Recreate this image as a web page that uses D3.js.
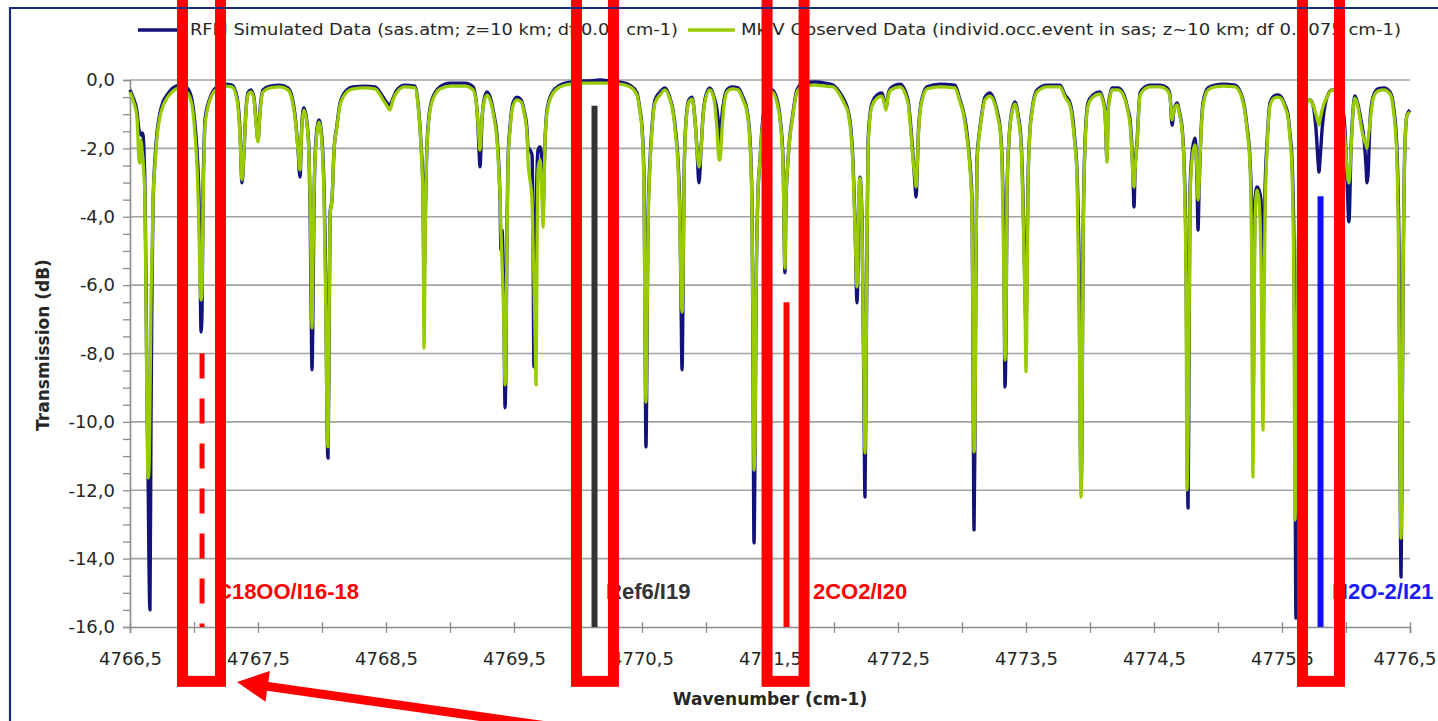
<!DOCTYPE html>
<html><head><meta charset="utf-8">
<script src="https://cdn.jsdelivr.net/npm/d3@7"></script>
<style>html,body{margin:0;padding:0;background:#fff;overflow:hidden}svg{display:block}</style>
</head><body>
<svg id="chart" width="1438" height="721"></svg>
<script>
// ---------------- DATA ----------------
const wavenumber = [
 4766.500,4766.523,4766.555,4766.570,4766.578,4766.586,4766.594,4766.602,4766.609,4766.617,4766.625,4766.633,4766.641,4766.648,4766.656,4766.664,4766.672,4766.680,4766.695,4766.711,4766.734,4766.758,4766.789,4766.836,4766.891,
 4766.945,4766.984,4767.008,4767.023,4767.039,4767.047,4767.055,4767.063,4767.070,4767.078,4767.086,4767.125,4767.180,4767.242,4767.297,
 4767.336,4767.359,4767.375,4767.391,4767.406,4767.422,4767.445,4767.469,4767.484,4767.500,4767.516,4767.539,4767.594,4767.672,4767.734,
 4767.766,4767.789,4767.813,4767.828,4767.844,4767.859,4767.883,4767.898,4767.906,4767.914,4767.922,4767.930,4767.938,4767.953,4767.977,4768.000,4768.016,4768.031,4768.039,4768.047,4768.055,4768.063,4768.078,4768.094,4768.117,4768.141,4768.195,4768.242,4768.336,4768.414,4768.477,4768.508,4768.531,4768.555,4768.586,4768.648,4768.727,
 4768.750,4768.773,4768.789,4768.797,4768.805,4768.813,4768.828,4768.859,4768.922,4769.000,4769.117,4769.180,
 4769.211,4769.227,4769.234,4769.250,4769.266,4769.289,4769.320,4769.344,4769.367,4769.383,4769.391,4769.398,4769.406,4769.422,4769.430,4769.438,4769.445,4769.453,4769.469,4769.492,4769.523,4769.555,4769.578,4769.602,4769.609,4769.625,4769.641,4769.648,4769.656,4769.664,4769.672,4769.680,4769.688,4769.703,4769.719,4769.727,4769.734,4769.742,4769.758,4769.797,4769.859,
 4769.938,4770.016,4770.094,4770.172,4770.250,4770.328,4770.406,4770.461,
 4770.484,4770.500,4770.516,4770.523,4770.531,4770.539,4770.547,4770.563,4770.578,4770.602,4770.641,4770.680,4770.719,4770.742,4770.766,4770.781,4770.797,4770.805,4770.813,4770.820,4770.828,4770.844,4770.867,4770.891,4770.914,4770.930,4770.945,4770.961,4770.977,4771.000,4771.031,4771.063,4771.086,4771.102,4771.109,4771.125,4771.141,4771.164,4771.203,
 4771.250,4771.289,4771.320,4771.344,4771.359,4771.367,4771.375,4771.383,4771.391,4771.406,4771.422,4771.438,4771.461,4771.484,4771.516,4771.555,4771.578,4771.602,4771.617,4771.625,4771.641,4771.656,4771.672,4771.711,4771.758,4771.852,4771.930,4771.992,
 4772.047,4772.086,4772.109,4772.133,4772.148,4772.164,4772.180,4772.195,4772.203,4772.219,4772.234,4772.242,4772.250,4772.258,4772.266,4772.281,4772.297,4772.336,4772.375,4772.398,4772.406,4772.422,4772.445,4772.516,4772.578,4772.602,4772.617,4772.633,4772.641,4772.648,4772.656,4772.672,4772.695,4772.727,4772.828,4772.945,
 4772.984,4773.008,4773.031,4773.047,4773.063,4773.078,4773.086,4773.094,4773.102,4773.109,4773.117,4773.133,4773.148,4773.180,4773.219,4773.258,4773.281,4773.297,4773.313,4773.328,4773.336,4773.344,4773.352,4773.367,4773.391,4773.414,4773.438,4773.461,4773.477,4773.492,4773.500,4773.508,4773.516,4773.531,4773.547,4773.586,4773.664,4773.766,
 4773.805,4773.844,4773.867,4773.883,4773.898,4773.914,4773.930,4773.938,4773.945,4773.961,4773.984,4774.023,4774.078,4774.102,4774.117,4774.133,4774.141,4774.156,4774.172,4774.219,4774.266,4774.297,4774.313,4774.328,4774.336,4774.344,4774.352,4774.367,4774.391,4774.430,4774.469,4774.547,4774.602,
 4774.625,4774.641,4774.656,4774.680,4774.703,4774.719,4774.734,4774.750,4774.758,4774.766,4774.773,4774.781,4774.797,4774.820,4774.836,4774.844,4774.852,4774.859,4774.883,4774.922,4774.977,4775.039,4775.133,4775.195,
 4775.227,4775.250,4775.266,4775.273,4775.281,4775.289,4775.305,4775.320,4775.336,4775.352,4775.359,4775.367,4775.383,4775.406,4775.438,4775.469,4775.500,4775.523,4775.547,4775.563,4775.578,4775.594,4775.602,4775.609,4775.617,4775.633,4775.656,4775.688,
 4775.719,4775.742,4775.766,4775.781,4775.789,4775.797,4775.813,4775.852,4775.891,4775.938,4775.969,4775.992,4776.008,4776.023,4776.039,4776.055,4776.070,4776.094,4776.117,4776.141,4776.156,4776.164,4776.172,4776.188,4776.211,4776.250,4776.297,4776.344,4776.375,4776.398,4776.414,4776.422,4776.430,4776.438,4776.445,4776.461,4776.477,4776.500
];
const rfmSimulated = [
 -0.29,-0.50,-0.94,-1.46,-1.55,-1.61,-1.55,-1.61,-2.05,-3.22,-5.85,-9.36,-11.41,-14.04,-15.50,-9.94,-5.85,-3.66,-2.34,-1.55,-0.97,-0.64,-0.44,-0.23,-0.15,
 -0.23,-0.58,-1.32,-2.05,-3.51,-5.26,-7.37,-6.73,-3.51,-2.05,-1.17,-0.53,-0.20,-0.12,-0.15,
 -0.50,-1.46,-3.01,-2.05,-0.88,-0.38,-0.29,-0.53,-1.17,-1.75,-0.88,-0.29,-0.18,-0.15,-0.23,
 -0.50,-1.02,-2.05,-2.84,-1.17,-0.82,-1.26,-2.05,-3.51,-6.14,-8.48,-6.44,-3.51,-1.75,-1.17,-1.75,-3.22,-6.44,-9.94,-11.06,-7.90,-3.89,-3.51,-2.05,-1.32,-0.67,-0.29,-0.20,-0.18,-0.20,-0.50,-0.67,-0.73,-0.53,-0.29,-0.15,-0.18,
 -0.67,-1.84,-3.22,-5.76,-4.39,-2.84,-1.37,-0.58,-0.20,-0.09,-0.09,-0.20,
 -0.88,-2.05,-2.54,-1.17,-0.58,-0.35,-0.58,-1.02,-1.61,-2.63,-3.51,-4.97,-4.39,-7.02,-9.59,-7.90,-4.39,-2.34,-1.37,-0.67,-0.50,-0.58,-0.88,-1.46,-1.96,-2.05,-2.19,-4.09,-8.39,-6.44,-4.09,-2.63,-2.05,-1.96,-2.34,-3.95,-2.92,-1.84,-0.88,-0.38,-0.15,
 -0.06,-0.03,-0.03,0.00,-0.03,-0.06,-0.15,-0.38,
 -0.88,-1.37,-2.92,-6.44,-10.73,-7.90,-4.09,-2.34,-1.37,-0.58,-0.35,-0.23,-0.53,-0.88,-1.61,-2.34,-4.09,-6.44,-8.48,-6.44,-2.92,-1.17,-0.58,-0.50,-1.17,-2.05,-3.01,-2.05,-1.02,-0.44,-0.23,-0.50,-0.88,-1.46,-1.84,-1.02,-0.58,-0.29,-0.20,
 -0.23,-0.50,-0.88,-1.75,-3.51,-7.90,-13.54,-10.82,-6.44,-3.30,-2.34,-1.37,-0.73,-0.44,-0.29,-0.58,-1.08,-2.34,-5.64,-3.51,-2.34,-1.61,-1.17,-0.29,-0.09,-0.06,-0.09,-0.15,
 -0.38,-0.64,-0.88,-1.46,-2.34,-4.09,-6.52,-3.51,-2.84,-4.09,-9.36,-12.20,-8.78,-4.97,-1.84,-1.02,-0.67,-0.44,-0.38,-0.73,-0.82,-0.44,-0.23,-0.12,-0.58,-1.46,-2.19,-3.07,-3.42,-2.92,-1.84,-0.88,-0.44,-0.20,-0.12,-0.15,
 -0.58,-0.88,-1.32,-1.84,-2.49,-3.51,-7.90,-13.16,-9.94,-5.26,-2.34,-1.61,-1.17,-0.50,-0.38,-0.67,-1.02,-1.37,-2.34,-5.26,-8.98,-7.31,-3.22,-1.75,-0.88,-0.64,-1.02,-1.75,-3.51,-6.14,-7.22,-5.26,-2.92,-1.46,-0.88,-0.29,-0.15,-0.15,
 -0.44,-0.67,-1.17,-1.84,-2.63,-5.26,-11.90,-9.94,-4.97,-1.84,-0.67,-0.44,-0.35,-0.58,-0.88,-2.34,-0.88,-0.44,-0.23,-0.23,-0.44,-0.88,-1.17,-2.05,-2.84,-3.71,-2.63,-1.84,-0.38,-0.20,-0.15,-0.15,-0.23,
 -0.44,-1.32,-0.88,-0.67,-1.02,-1.37,-2.34,-4.97,-9.36,-12.52,-8.77,-3.30,-2.14,-1.70,-2.92,-4.39,-3.22,-2.34,-0.67,-0.23,-0.15,-0.12,-0.15,-0.58,
 -1.37,-2.34,-4.39,-10.32,-6.44,-3.51,-3.13,-3.22,-3.51,-5.56,-4.97,-3.30,-1.84,-0.67,-0.47,-0.44,-0.53,-0.73,-1.02,-1.61,-2.34,-4.97,-10.82,-15.74,-9.36,-3.51,-1.46,-0.67,
 -0.58,-0.73,-1.46,-2.34,-2.69,-2.34,-1.46,-0.50,-0.29,-0.35,-0.73,-1.46,-2.92,-4.15,-2.05,-0.88,-0.47,-0.73,-1.17,-1.75,-2.49,-3.01,-2.78,-1.17,-0.50,-0.26,-0.23,-0.35,-0.88,-2.05,-4.97,-10.82,-14.54,-10.82,-6.44,-1.84,-1.02,-0.88
];
const mkivObserved = [
 -0.35,-0.58,-1.11,-2.34,-2.43,-1.75,-2.05,-2.34,-2.78,-3.51,-6.44,-9.94,-11.64,-11.41,-9.36,-6.44,-5.26,-3.51,-2.49,-1.67,-1.08,-0.76,-0.53,-0.32,-0.23,
 -0.35,-0.73,-1.61,-2.49,-4.39,-5.85,-6.44,-6.14,-3.80,-2.34,-1.32,-0.58,-0.26,-0.18,-0.20,
 -0.58,-1.61,-2.92,-2.05,-0.94,-0.44,-0.35,-0.58,-1.23,-1.81,-0.94,-0.35,-0.23,-0.20,-0.29,
 -0.58,-1.11,-2.05,-2.63,-1.23,-0.88,-1.32,-2.19,-3.22,-5.26,-7.25,-5.26,-3.22,-1.90,-1.23,-1.90,-3.51,-7.02,-9.94,-10.73,-7.31,-3.95,-3.51,-2.05,-1.37,-0.73,-0.35,-0.26,-0.23,-0.26,-0.58,-0.76,-0.88,-0.58,-0.35,-0.20,-0.23,
 -0.73,-1.90,-3.51,-7.84,-5.26,-2.92,-1.46,-0.64,-0.26,-0.18,-0.18,-0.29,
 -0.88,-1.75,-2.05,-1.11,-0.64,-0.44,-0.67,-1.11,-1.75,-2.78,-3.36,-4.39,-5.26,-7.31,-8.92,-7.60,-4.68,-2.49,-1.46,-0.76,-0.58,-0.64,-0.94,-1.61,-2.34,-2.92,-3.51,-4.68,-5.85,-7.31,-8.92,-4.97,-2.63,-2.34,-3.51,-4.30,-3.22,-1.90,-0.94,-0.44,-0.20,
 -0.12,-0.09,-0.09,-0.09,-0.09,-0.12,-0.20,-0.44,
 -0.94,-1.46,-3.22,-7.31,-9.42,-7.31,-4.39,-2.49,-1.46,-0.67,-0.44,-0.29,-0.58,-0.94,-1.75,-2.49,-4.39,-6.14,-6.79,-5.85,-3.07,-1.23,-0.64,-0.56,-1.17,-2.05,-2.54,-2.05,-1.08,-0.50,-0.29,-0.58,-1.46,-2.34,-2.34,-1.46,-0.73,-0.35,-0.26,
 -0.29,-0.58,-0.94,-1.90,-3.80,-7.31,-11.41,-10.53,-6.44,-3.36,-2.34,-1.46,-0.82,-0.50,-0.35,-0.67,-1.17,-2.49,-5.50,-3.51,-2.34,-1.67,-1.23,-0.35,-0.18,-0.15,-0.18,-0.20,
 -0.44,-0.73,-0.94,-1.61,-2.49,-4.39,-6.05,-3.22,-2.87,-4.39,-8.78,-10.91,-8.48,-4.97,-2.05,-1.11,-0.76,-0.53,-0.47,-0.76,-0.88,-0.50,-0.29,-0.20,-0.67,-1.61,-2.34,-2.84,-3.13,-2.78,-1.90,-0.94,-0.50,-0.26,-0.20,-0.23,
 -0.64,-0.94,-1.46,-1.96,-2.63,-3.80,-7.31,-10.88,-9.94,-5.26,-2.49,-1.67,-1.23,-0.58,-0.47,-0.73,-1.11,-1.46,-2.49,-5.85,-8.19,-7.02,-3.22,-1.75,-0.94,-0.70,-1.11,-1.90,-3.80,-6.44,-8.54,-6.44,-3.07,-1.52,-0.94,-0.35,-0.20,-0.20,
 -0.50,-0.76,-1.32,-1.96,-2.78,-6.44,-12.20,-10.24,-5.26,-1.96,-0.76,-0.50,-0.41,-0.64,-0.94,-2.40,-1.02,-0.50,-0.29,-0.29,-0.50,-0.94,-1.32,-2.19,-2.84,-3.13,-2.63,-1.90,-0.44,-0.26,-0.20,-0.20,-0.29,
 -0.50,-1.17,-0.88,-0.73,-1.08,-1.46,-2.49,-5.85,-11.99,-10.53,-7.90,-3.51,-2.34,-1.90,-2.63,-3.51,-3.07,-2.34,-0.76,-0.29,-0.20,-0.18,-0.20,-0.64,
 -1.46,-2.49,-6.44,-11.61,-7.90,-4.09,-3.22,-3.51,-5.26,-10.24,-7.31,-4.09,-2.05,-0.76,-0.53,-0.50,-0.58,-0.79,-1.11,-1.75,-2.63,-6.44,-12.87,-10.82,-7.90,-3.51,-1.61,-0.73,
 -0.58,-0.73,-1.02,-1.23,-1.32,-1.17,-0.88,-0.50,-0.29,-0.41,-0.88,-1.75,-2.63,-3.01,-2.05,-0.94,-0.53,-0.79,-1.32,-1.75,-1.90,-1.99,-1.75,-1.23,-0.56,-0.32,-0.29,-0.41,-1.02,-2.34,-6.44,-10.82,-13.40,-10.53,-6.44,-1.90,-1.02,-0.94
];
const seriesNames = ["RFM Simulated Data (sas.atm; z=10 km; df 0.01 cm-1)",
                     "MkIV Observed Data (individ.occ.event in sas; z~10 km; df 0.0075 cm-1)"];
const xDomain = [4766.5, 4776.5];
const yDomain = [-16, 0];
const xLabelTicks = [4766.5,4767.5,4768.5,4769.5,4770.5,4771.5,4772.5,4773.5,4774.5,4775.5,4776.5];
const xMinorTicks = d3.range(4766.5, 4776.51, 0.5);
const yLabelTicks = [0,-2,-4,-6,-8,-10,-12,-14,-16];
const yMinorTicks = d3.range(-16, 0.01, 0.5);
// marker lines: wavenumber, top value (dB)
const markerWn   = [4767.063, 4770.129, 4771.629, 4775.801];
const markerTop  = [-8.0, -0.75, -6.5, -3.4];
const markerCol  = ["#ff0000", "#333333", "#ff0000", "#1010ff"];
const markerDash = [true, false, false, false];
const labelText  = ["C18OO/I16-18", "Ref6/I19", "2CO2/I20", "H2O-2/I21"];
const labelWn    = [4767.172, 4770.219, 4771.836, 4775.891];
const labelCol   = ["#ff0000", "#333333", "#ff0000", "#1a1aff"];
// highlight boxes [left, right] wavenumbers
const boxLeft  = [4766.910, 4769.988, 4771.477, 4775.660];
const boxRight = [4767.207, 4770.277, 4771.766, 4775.949];

// ---------------- CHART ----------------
const svg = d3.select("#chart");
const W = 1438, H = 721;
svg.append("rect").attr("width", W).attr("height", H).attr("fill", "#fff");
const x = d3.scaleLinear().domain(xDomain).range([130, 1410]);
const y = d3.scaleLinear().domain(yDomain).range([627, 80]);
const fmt = v => d3.format(".1f")(v).replace(".", ",").replace("−", "-");

// gridlines
svg.append("g").selectAll("line").data(yLabelTicks.filter(d => d > -16)).join("line")
  .attr("x1", x(xDomain[0])).attr("x2", x(xDomain[1]))
  .attr("y1", d => y(d)).attr("y2", d => y(d))
  .attr("stroke", "#a3a3a3").attr("stroke-width", 1.6);

// y axis
const yAxis = d3.axisLeft(y).tickValues(yMinorTicks).tickSize(7).tickPadding(8)
  .tickFormat(d => (Math.abs(d % 2) < 1e-9) ? fmt(d) : "");
const gy = svg.append("g").attr("transform", `translate(${x(xDomain[0])},0)`).call(yAxis);
gy.select(".domain").attr("stroke", "#8c8c8c").attr("stroke-width", 1.6);
gy.selectAll(".tick line").attr("stroke", "#8c8c8c").attr("stroke-width", 1.3);
gy.selectAll(".tick text").attr("font-family", "DejaVu Sans").attr("font-size", 18).attr("fill", "#262626");

// x axis
const xAxis = d3.axisBottom(x).tickValues(xMinorTicks).tickSize(6).tickPadding(19)
  .tickFormat(d => xLabelTicks.some(v => Math.abs(v - d) < 1e-6) ? fmt(d) : "");
const gx = svg.append("g").attr("transform", `translate(0,${y(yDomain[0])})`).call(xAxis);
gx.select(".domain").attr("stroke", "#8c8c8c").attr("stroke-width", 1.6);
gx.selectAll(".tick line").attr("y1", -5).attr("stroke", "#8c8c8c").attr("stroke-width", 1.3);
gx.selectAll(".tick text").attr("font-family", "DejaVu Sans").attr("font-size", 18).attr("fill", "#262626");
// keep the last label inside the picture
gx.selectAll(".tick text").filter(d => Math.abs(d - xDomain[1]) < 1e-6)
  .attr("text-anchor", "end").attr("dx", 26);

// axis titles
svg.append("text").attr("x", 770).attr("y", 700).attr("text-anchor", "middle")
  .attr("dominant-baseline", "middle").attr("font-family", "DejaVu Sans").attr("font-weight", "bold")
  .attr("font-size", 17).attr("fill", "#262626").text("Wavenumber (cm-1)");
svg.append("text").attr("transform", "translate(44,345) rotate(-90)").attr("text-anchor", "middle")
  .attr("dominant-baseline", "middle").attr("font-family", "DejaVu Sans").attr("font-weight", "bold")
  .attr("font-size", 17).attr("fill", "#262626").text("Transmission (dB)");

// series
const line = d3.line().x(d => x(d[0])).y(d => y(d[1])).curve(d3.curveMonotoneX);
const rfmPts = wavenumber.map((w, i) => [w, rfmSimulated[i]]);
const mkivPts = wavenumber.map((w, i) => [w, mkivObserved[i]]);
svg.append("path").datum(rfmPts).attr("d", line).attr("fill", "none")
  .attr("stroke", "#12127a").attr("stroke-width", 3.4).attr("stroke-linejoin", "round");
svg.append("path").datum(mkivPts).attr("d", line).attr("fill", "none")
  .attr("stroke", "#99cc00").attr("stroke-width", 3.3).attr("stroke-linejoin", "round");

// marker lines
markerWn.forEach((w, i) => {
  svg.append("line").attr("x1", x(w)).attr("x2", x(w))
    .attr("y1", y(markerTop[i])).attr("y2", y(yDomain[0]))
    .attr("stroke", markerCol[i]).attr("stroke-width", markerDash[i] ? 5 : 6)
    .attr("stroke-dasharray", markerDash[i] ? "25,20" : null);
});

// legend
const legY = 30;
svg.append("line").attr("x1", 138).attr("x2", 181).attr("y1", legY).attr("y2", legY)
  .attr("stroke", "#12127a").attr("stroke-width", 3.5);
svg.append("text").attr("x", 190).attr("y", legY).attr("dominant-baseline", "middle")
  .attr("font-family", "DejaVu Sans").attr("font-size", 16).attr("fill", "#262626")
  .attr("textLength", 488).attr("lengthAdjust", "spacingAndGlyphs").text(seriesNames[0]);
svg.append("line").attr("x1", 688).attr("x2", 735).attr("y1", legY).attr("y2", legY)
  .attr("stroke", "#99cc00").attr("stroke-width", 3.5);
svg.append("text").attr("x", 741).attr("y", legY).attr("dominant-baseline", "middle")
  .attr("font-family", "DejaVu Sans").attr("font-size", 16).attr("fill", "#262626")
  .attr("textLength", 660).attr("lengthAdjust", "spacingAndGlyphs").text(seriesNames[1]);

// labels
labelText.forEach((t, i) => {
  svg.append("text").attr("x", x(labelWn[i])).attr("y", y(-15.0))
    .attr("dominant-baseline", "middle").attr("font-family", "Liberation Sans, Arial, sans-serif")
    .attr("font-weight", "bold").attr("font-size", 22).attr("fill", labelCol[i]).text(t);
});

// highlight boxes
boxLeft.forEach((l, i) => {
  svg.append("rect").attr("x", x(l)).attr("y", y(3))
    .attr("width", x(boxRight[i]) - x(l)).attr("height", y(-17.59) - y(3))
    .attr("fill", "none").attr("stroke", "#ff0000").attr("stroke-width", 11);
});

// arrow
const tip = [x(4767.336), y(-17.61)];
const tail = [x(4769.86), y(-18.95)];
const dx = tail[0] - tip[0], dy = tail[1] - tip[1], L = Math.hypot(dx, dy);
const ux = dx / L, uy = dy / L, nx = -uy, ny = ux;
const hl = 31, hw = 15.5;
const base = [tip[0] + ux * hl, tip[1] + uy * hl];
svg.append("line").attr("x1", base[0] - ux * 2).attr("y1", base[1] - uy * 2)
  .attr("x2", tail[0]).attr("y2", tail[1]).attr("stroke", "#ff0000").attr("stroke-width", 9);
svg.append("path").attr("d", `M${tip[0]},${tip[1]}L${base[0] + nx * hw},${base[1] + ny * hw}L${base[0] - nx * hw},${base[1] - ny * hw}Z`)
  .attr("fill", "#ff0000");

// outer frame
svg.append("path").attr("d", `M10,${H + 5}L10,8L${W + 5},8`).attr("fill", "none")
  .attr("stroke", "#1c2a7a").attr("stroke-width", 2.2);
</script>
</body></html>
